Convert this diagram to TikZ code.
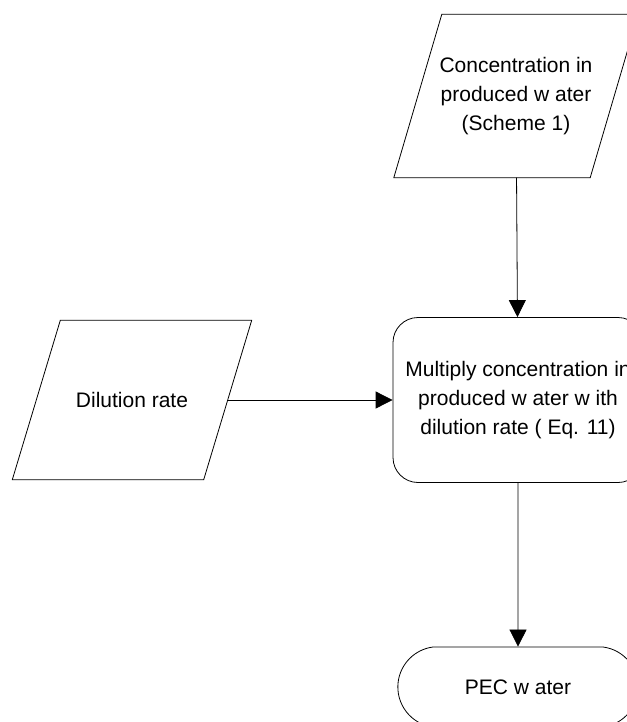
\documentclass[tikz,border=0pt]{standalone}
\usepackage{fontspec}
\setmainfont{Liberation Sans}
\usetikzlibrary{shapes.misc, arrows.meta, positioning, calc}

\begin{document}
\begin{tikzpicture}[
    x=1pt, y=-1pt,
    io/.style={rectangle, align=center, inner sep=2pt, font=\fontsize{21}{29}\selectfont},
    outline/.style={draw, line width=0.8pt},
    proc/.style={rectangle, rounded corners=25pt, draw, align=center, line width=0.8pt, minimum width=250pt, minimum height=165pt, font=\fontsize{21}{29}\selectfont},
    term/.style={rounded rectangle, rounded rectangle arc length=165, draw, align=center, line width=0.8pt, minimum width=247pt, minimum height=80pt, font=\fontsize{21}{29}\selectfont},
    arrow/.style={-{Triangle[length=17pt, width=17pt]}, line width=0.8pt}
]
    \useasboundingbox (0,0) rectangle (626,722);

    \node[io, minimum width=196pt, minimum height=163pt] (conc) at (516,96) {Concentration in \\ produced w ater \\ (Scheme 1)};
    \node[io, minimum width=191pt, minimum height=159pt] (dilution) at (132,400) {Dilution rate};
    \node[proc] (multiply) at (518,400) {Multiply concentration in \\ produced w ater w ith \\ dilution rate ( Eq. 11)};
    \node[term] (pec) at (518,687) {PEC w ater};

    % parallelogram outlines for the inputs
    \foreach \n in {conc, dilution}
        \draw[outline] ($(\n.south west)+(-24,0)$) -- ($(\n.north west)+(24,0)$) -- ($(\n.north east)+(24,0)$) -- ($(\n.south east)+(-24,0)$) -- cycle;

    \draw[arrow] (conc) -- (multiply);
    \draw[arrow] (dilution) -- (multiply);
    \draw[arrow] (multiply) -- (pec);
\end{tikzpicture}
\end{document}
